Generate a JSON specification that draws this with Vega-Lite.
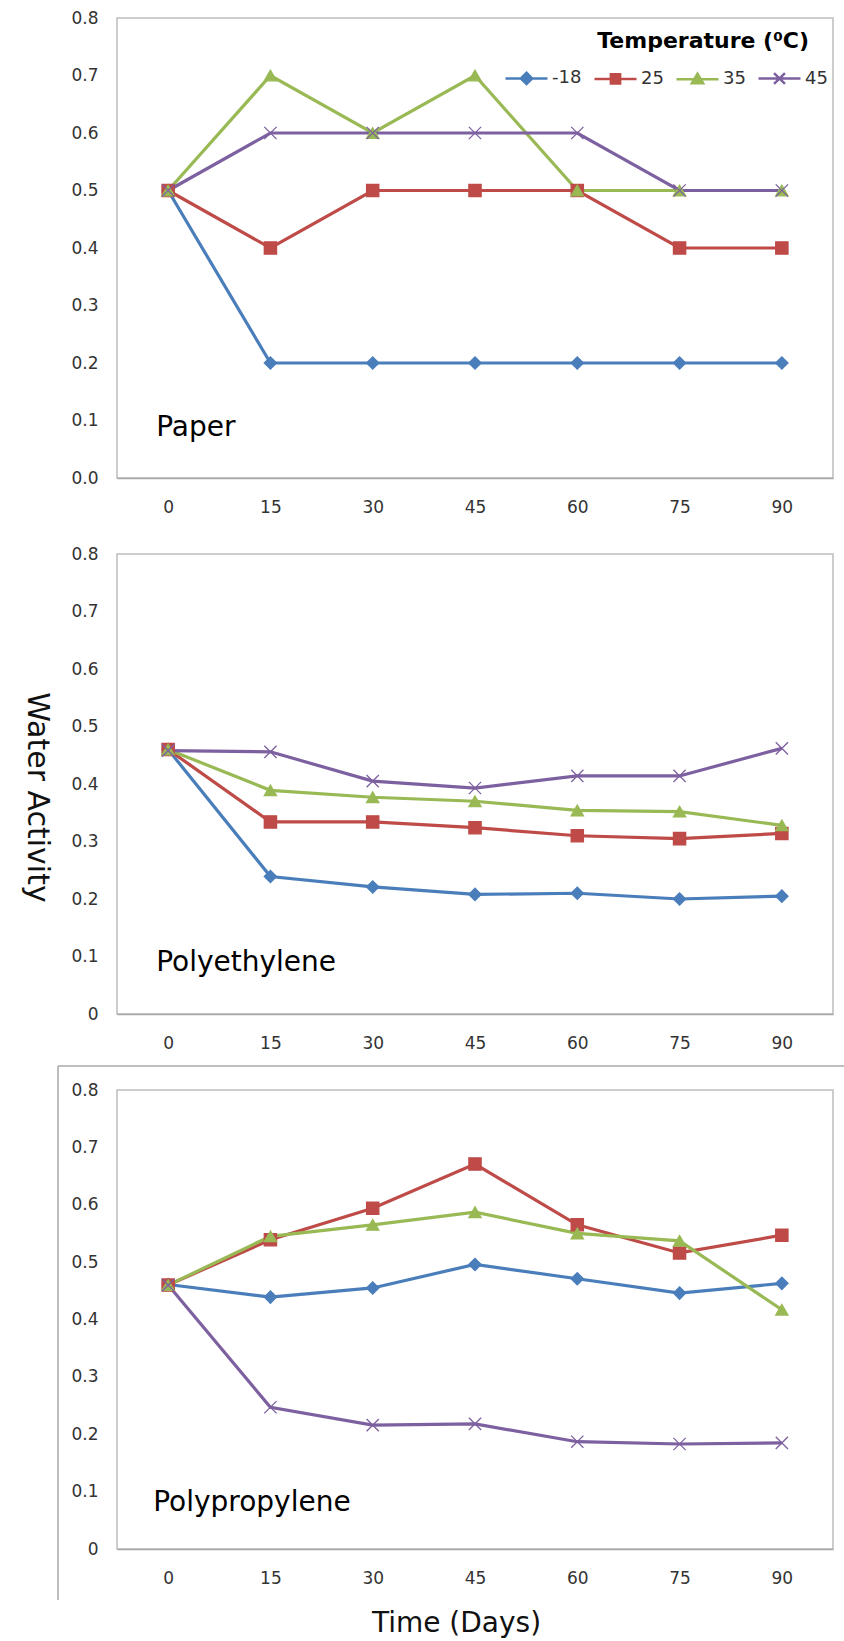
{
  "$schema": "https://vega.github.io/schema/vega-lite/v6.json",
  "autosize": {"type": "pad"},
  "padding": {"left": 20, "top": 8, "right": 0, "bottom": 0},
  "background": "white",
  "bounds": "flush",
  "spacing": 76,
  "datasets": {
    "paper": [
      {"day": 0, "temp": "-18", "aw": 0.5}, {"day": 15, "temp": "-18", "aw": 0.2}, {"day": 30, "temp": "-18", "aw": 0.2}, {"day": 45, "temp": "-18", "aw": 0.2}, {"day": 60, "temp": "-18", "aw": 0.2}, {"day": 75, "temp": "-18", "aw": 0.2}, {"day": 90, "temp": "-18", "aw": 0.2},
      {"day": 0, "temp": "25", "aw": 0.5}, {"day": 15, "temp": "25", "aw": 0.4}, {"day": 30, "temp": "25", "aw": 0.5}, {"day": 45, "temp": "25", "aw": 0.5}, {"day": 60, "temp": "25", "aw": 0.5}, {"day": 75, "temp": "25", "aw": 0.4}, {"day": 90, "temp": "25", "aw": 0.4},
      {"day": 0, "temp": "35", "aw": 0.5}, {"day": 15, "temp": "35", "aw": 0.7}, {"day": 30, "temp": "35", "aw": 0.6}, {"day": 45, "temp": "35", "aw": 0.7}, {"day": 60, "temp": "35", "aw": 0.5}, {"day": 75, "temp": "35", "aw": 0.5}, {"day": 90, "temp": "35", "aw": 0.5},
      {"day": 0, "temp": "45", "aw": 0.5}, {"day": 15, "temp": "45", "aw": 0.6}, {"day": 30, "temp": "45", "aw": 0.6}, {"day": 45, "temp": "45", "aw": 0.6}, {"day": 60, "temp": "45", "aw": 0.6}, {"day": 75, "temp": "45", "aw": 0.5}, {"day": 90, "temp": "45", "aw": 0.5}
    ],
    "pe": [
      {"day": 0, "temp": "-18", "aw": 0.46}, {"day": 15, "temp": "-18", "aw": 0.239}, {"day": 30, "temp": "-18", "aw": 0.221}, {"day": 45, "temp": "-18", "aw": 0.208}, {"day": 60, "temp": "-18", "aw": 0.21}, {"day": 75, "temp": "-18", "aw": 0.2}, {"day": 90, "temp": "-18", "aw": 0.205},
      {"day": 0, "temp": "25", "aw": 0.46}, {"day": 15, "temp": "25", "aw": 0.334}, {"day": 30, "temp": "25", "aw": 0.334}, {"day": 45, "temp": "25", "aw": 0.324}, {"day": 60, "temp": "25", "aw": 0.31}, {"day": 75, "temp": "25", "aw": 0.305}, {"day": 90, "temp": "25", "aw": 0.314},
      {"day": 0, "temp": "35", "aw": 0.46}, {"day": 15, "temp": "35", "aw": 0.389}, {"day": 30, "temp": "35", "aw": 0.377}, {"day": 45, "temp": "35", "aw": 0.37}, {"day": 60, "temp": "35", "aw": 0.354}, {"day": 75, "temp": "35", "aw": 0.352}, {"day": 90, "temp": "35", "aw": 0.328},
      {"day": 0, "temp": "45", "aw": 0.458}, {"day": 15, "temp": "45", "aw": 0.456}, {"day": 30, "temp": "45", "aw": 0.405}, {"day": 45, "temp": "45", "aw": 0.393}, {"day": 60, "temp": "45", "aw": 0.414}, {"day": 75, "temp": "45", "aw": 0.414}, {"day": 90, "temp": "45", "aw": 0.462}
    ],
    "pp": [
      {"day": 0, "temp": "-18", "aw": 0.461}, {"day": 15, "temp": "-18", "aw": 0.439}, {"day": 30, "temp": "-18", "aw": 0.455}, {"day": 45, "temp": "-18", "aw": 0.496}, {"day": 60, "temp": "-18", "aw": 0.471}, {"day": 75, "temp": "-18", "aw": 0.446}, {"day": 90, "temp": "-18", "aw": 0.463},
      {"day": 0, "temp": "25", "aw": 0.46}, {"day": 15, "temp": "25", "aw": 0.539}, {"day": 30, "temp": "25", "aw": 0.594}, {"day": 45, "temp": "25", "aw": 0.671}, {"day": 60, "temp": "25", "aw": 0.565}, {"day": 75, "temp": "25", "aw": 0.516}, {"day": 90, "temp": "25", "aw": 0.547},
      {"day": 0, "temp": "35", "aw": 0.46}, {"day": 15, "temp": "35", "aw": 0.545}, {"day": 30, "temp": "35", "aw": 0.565}, {"day": 45, "temp": "35", "aw": 0.587}, {"day": 60, "temp": "35", "aw": 0.55}, {"day": 75, "temp": "35", "aw": 0.537}, {"day": 90, "temp": "35", "aw": 0.417},
      {"day": 0, "temp": "45", "aw": 0.46}, {"day": 15, "temp": "45", "aw": 0.247}, {"day": 30, "temp": "45", "aw": 0.216}, {"day": 45, "temp": "45", "aw": 0.218}, {"day": 60, "temp": "45", "aw": 0.187}, {"day": 75, "temp": "45", "aw": 0.183}, {"day": 90, "temp": "45", "aw": 0.185}
    ]
  },
  "resolve": {"legend": {"color": "independent"}},
  "vconcat": [
    {
      "width": 716, "height": 460,
      "layer": [
        {"data": {"name": "paper"}, "mark": {"type": "line", "strokeWidth": 3.2},
         "encoding": {
           "x": {"field": "day", "type": "quantitative", "scale": {"domain": [-7.5, 97.5], "nice": false, "zero": false}, "axis": {"title": null, "values": [0, 15, 30, 45, 60, 75, 90]}},
           "y": {"field": "aw", "type": "quantitative", "scale": {"domain": [0, 0.8], "nice": false}, "axis": {"title": null, "values": [0, 0.1, 0.2, 0.3, 0.4, 0.5, 0.6, 0.7, 0.8], "format": ".1f"}},
           "color": {"field": "temp", "type": "nominal", "scale": {"domain": ["-18", "25", "35", "45"], "range": ["#4A7EBB", "#BE4B48", "#98B954", "#7D60A0"]},
             "legend": {
               "orient": "none", "legendX": 387, "legendY": 12.5, "direction": "horizontal", "padding": 0,
               "title": "Temperature (⁰C)", "titleFont": "DejaVu Sans", "titleFontSize": 22, "titleFontWeight": "bold", "titleColor": "#000000", "titleAnchor": "end", "titlePadding": 3, "titleLimit": 500,
               "labelFont": "DejaVu Sans", "labelFontSize": 18, "labelColor": "#333333", "labelOffset": 3, "columnPadding": 7,
               "symbolSize": 1764, "symbolStrokeWidth": 2.5,
               "encode": {
                 "symbols": {"update": {
                   "shape": {"signal": "datum.value === '-18' ? 'M-1,0L1,0M0,-0.27L0.27,0L0,0.27L-0.27,0Z' : datum.value === '25' ? 'M-1,0L1,0M-0.22,-0.22L0.22,-0.22L0.22,0.22L-0.22,0.22Z' : datum.value === '35' ? 'M-1,0L1,0M0,-0.26L0.27,0.2L-0.27,0.2Z' : 'M-1,0L1,0M-0.26,-0.26L0.26,0.26M-0.26,0.26L0.26,-0.26'"},
                   "fill": {"signal": "scale('color', datum.value)"},
                   "stroke": {"signal": "scale('color', datum.value)"},
                   "strokeWidth": {"value": 2.5},
                   "opacity": {"value": 1}
                 }},
                 "title": {"update": {"dx": {"value": -19}}}
               }
             }
           }
         }},
        {"data": {"name": "paper"}, "mark": {"type": "point", "filled": true, "size": 150, "opacity": 1, "strokeWidth": 1.3},
         "encoding": {
           "x": {"field": "day", "type": "quantitative"},
           "y": {"field": "aw", "type": "quantitative"},
           "color": {"field": "temp", "type": "nominal"},
           "shape": {"field": "temp", "type": "nominal", "scale": {"domain": ["-18", "25", "35", "45"], "range": ["diamond", "square", "triangle-up", "M-1,-1L1,1M-1,1L1,-1"]}, "legend": null},
           "stroke": {"field": "temp", "type": "nominal", "scale": {"domain": ["-18", "25", "35", "45"], "range": ["#4A7EBB", "#BE4B48", "#98B954", "#7D60A0"]}, "legend": null}
         }},
        {"data": {"values": [{"label": "Paper"}]},
         "mark": {"type": "text", "align": "left", "baseline": "alphabetic", "font": "DejaVu Sans", "fontSize": 28, "dx": -12, "fill": "#000000"},
         "encoding": {"x": {"datum": 0, "type": "quantitative"}, "y": {"datum": 0.073, "type": "quantitative"}, "text": {"field": "label"}}}
      ]
    },
    {
      "width": 716, "height": 460,
      "layer": [
        {"data": {"name": "pe"}, "mark": {"type": "line", "strokeWidth": 3.2},
         "encoding": {
           "x": {"field": "day", "type": "quantitative", "scale": {"domain": [-7.5, 97.5], "nice": false, "zero": false}, "axis": {"title": null, "values": [0, 15, 30, 45, 60, 75, 90]}},
           "y": {"field": "aw", "type": "quantitative", "scale": {"domain": [0, 0.8], "nice": false}, "axis": {"title": "Water Activity", "titleAngle": 90, "titleX": -81, "titleY": 243, "titleAlign": "center", "titleBaseline": "middle", "titleFontSize": 30, "values": [0, 0.1, 0.2, 0.3, 0.4, 0.5, 0.6, 0.7, 0.8], "labelExpr": "datum.value == 0 ? '0' : format(datum.value, '.1f')"}},
           "color": {"field": "temp", "type": "nominal", "scale": {"domain": ["-18", "25", "35", "45"], "range": ["#4A7EBB", "#BE4B48", "#98B954", "#7D60A0"]}, "legend": null}
         }},
        {"data": {"name": "pe"}, "mark": {"type": "point", "filled": true, "size": 150, "opacity": 1, "strokeWidth": 1.3},
         "encoding": {
           "x": {"field": "day", "type": "quantitative"},
           "y": {"field": "aw", "type": "quantitative"},
           "color": {"field": "temp", "type": "nominal", "legend": null},
           "shape": {"field": "temp", "type": "nominal", "scale": {"domain": ["-18", "25", "35", "45"], "range": ["diamond", "square", "triangle-up", "M-1,-1L1,1M-1,1L1,-1"]}, "legend": null},
           "stroke": {"field": "temp", "type": "nominal", "scale": {"domain": ["-18", "25", "35", "45"], "range": ["#4A7EBB", "#BE4B48", "#98B954", "#7D60A0"]}, "legend": null}
         }},
        {"data": {"values": [{"label": "Polyethylene"}]},
         "mark": {"type": "text", "align": "left", "baseline": "alphabetic", "font": "DejaVu Sans", "fontSize": 28, "dx": -12, "fill": "#000000"},
         "encoding": {"x": {"datum": 0, "type": "quantitative"}, "y": {"datum": 0.075, "type": "quantitative"}, "text": {"field": "label"}}}
      ]
    },
    {
      "width": 716, "height": 459,
      "layer": [
        {"data": {"name": "pp"}, "mark": {"type": "line", "strokeWidth": 3.2},
         "encoding": {
           "x": {"field": "day", "type": "quantitative", "scale": {"domain": [-7.5, 97.5], "nice": false, "zero": false}, "axis": {"title": "Time (Days)", "values": [0, 15, 30, 45, 60, 75, 90], "titleX": 339, "titleY": 82, "titleAlign": "center", "titleBaseline": "alphabetic", "titleFontSize": 28}},
           "y": {"field": "aw", "type": "quantitative", "scale": {"domain": [0, 0.8], "nice": false}, "axis": {"title": null, "values": [0, 0.1, 0.2, 0.3, 0.4, 0.5, 0.6, 0.7, 0.8], "labelExpr": "datum.value == 0 ? '0' : format(datum.value, '.1f')"}},
           "color": {"field": "temp", "type": "nominal", "scale": {"domain": ["-18", "25", "35", "45"], "range": ["#4A7EBB", "#BE4B48", "#98B954", "#7D60A0"]}, "legend": null}
         }},
        {"data": {"name": "pp"}, "mark": {"type": "point", "filled": true, "size": 150, "opacity": 1, "strokeWidth": 1.3},
         "encoding": {
           "x": {"field": "day", "type": "quantitative"},
           "y": {"field": "aw", "type": "quantitative"},
           "color": {"field": "temp", "type": "nominal", "legend": null},
           "shape": {"field": "temp", "type": "nominal", "scale": {"domain": ["-18", "25", "35", "45"], "range": ["diamond", "square", "triangle-up", "M-1,-1L1,1M-1,1L1,-1"]}, "legend": null},
           "stroke": {"field": "temp", "type": "nominal", "scale": {"domain": ["-18", "25", "35", "45"], "range": ["#4A7EBB", "#BE4B48", "#98B954", "#7D60A0"]}, "legend": null}
         }},
        {"data": {"values": [{"label": "Polypropylene"}]},
         "mark": {"type": "text", "align": "left", "baseline": "alphabetic", "font": "DejaVu Sans", "fontSize": 28, "dx": -15, "fill": "#000000"},
         "encoding": {"x": {"datum": 0, "type": "quantitative"}, "y": {"datum": 0.066, "type": "quantitative"}, "text": {"field": "label"}}},
        {"data": {"values": [{"edge": "top"}]},
         "mark": {"type": "rule", "stroke": "#a8a8a8", "strokeWidth": 1.5, "clip": false},
         "encoding": {"x": {"datum": -16.15, "type": "quantitative"}, "x2": {"datum": 99.3}, "y": {"datum": 0.8418, "type": "quantitative"}}},
        {"data": {"values": [{"edge": "left"}]},
         "mark": {"type": "rule", "stroke": "#a8a8a8", "strokeWidth": 1.5, "clip": false},
         "encoding": {"x": {"datum": -16.15, "type": "quantitative"}, "y": {"datum": 0.8418, "type": "quantitative"}, "y2": {"datum": -0.0889}}}
      ]
    }
  ],
  "config": {
    "view": {"stroke": "#bdbdbd", "strokeWidth": 1.5},
    "axis": {"grid": false, "ticks": false, "tickSize": 0, "domain": false, "labelFont": "DejaVu Sans", "labelFontSize": 17, "labelColor": "#333333", "titleFont": "DejaVu Sans", "titleFontWeight": "normal", "titleColor": "#111111"},
    "axisX": {"domain": true, "domainColor": "#a6a6a6", "domainWidth": 1.5, "labelPadding": 21, "labelAngle": 0},
    "axisY": {"labelPadding": 19}
  }
}
